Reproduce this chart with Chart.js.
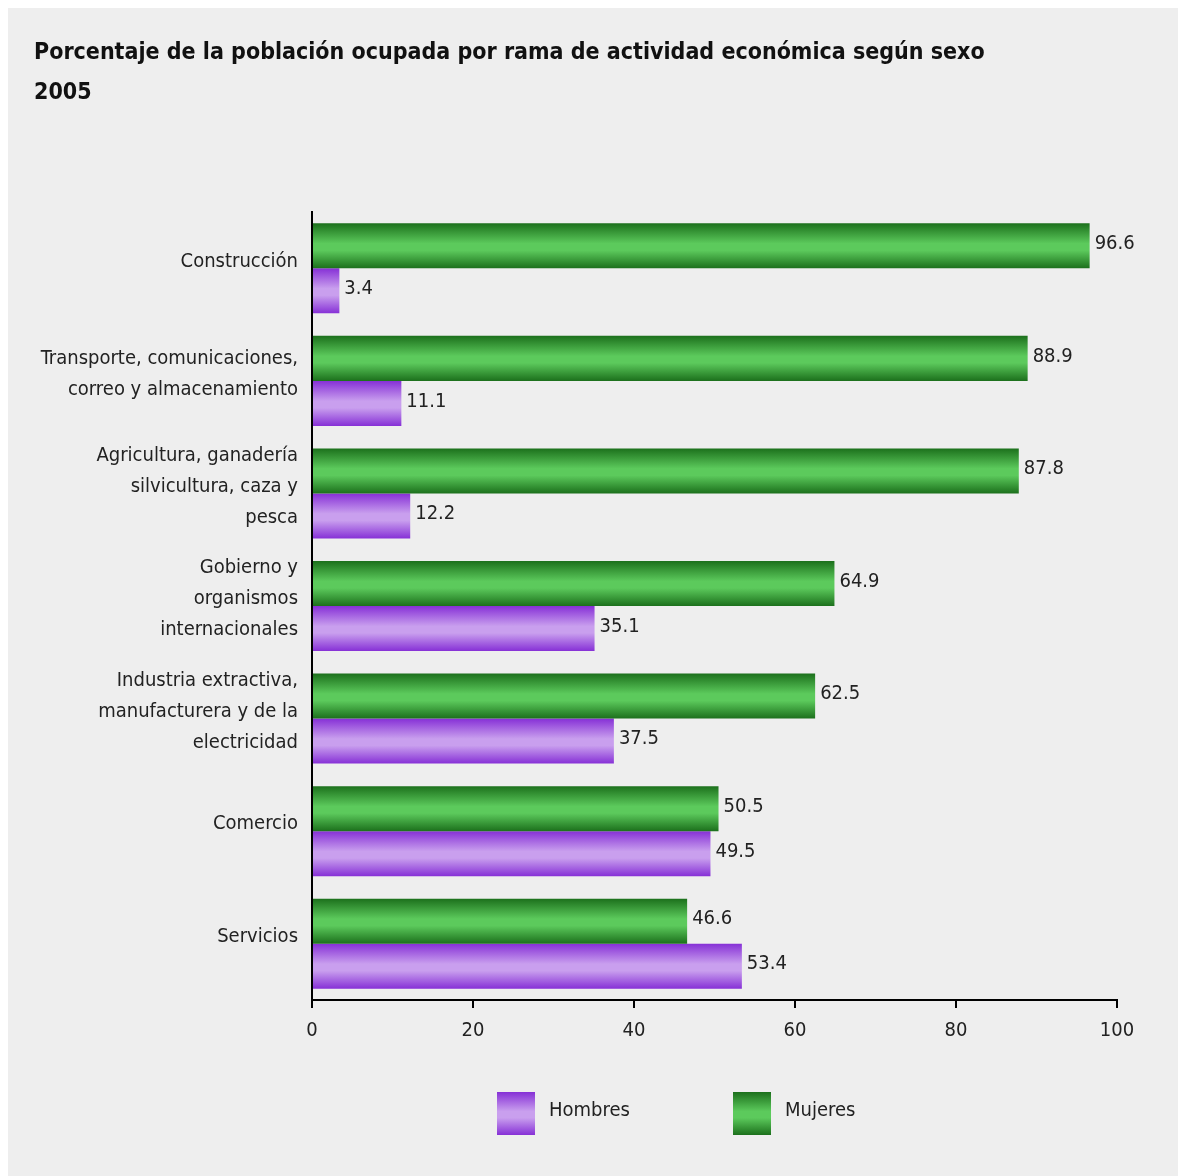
<!DOCTYPE html>
<html>
<head>
<meta charset="utf-8">
<script src="https://cdn.jsdelivr.net/npm/chart.js@4.4.1/dist/chart.umd.min.js"></script>
<style>
  body { margin: 0; background: #ffffff; }
  #box { position: absolute; left: 8px; top: 8px; width: 1170px; height: 1168px; background: #eeeeee; }
  canvas { display: block; }
</style>
</head>
<body>
<div id="box"><canvas id="chart" width="1170" height="1168"></canvas></div>
<script>
const FONT = "'Liberation Sans Narrow', 'DejaVu Sans Condensed', 'Arial Narrow', sans-serif";

const categories = [
  'Construcción',
  ['Transporte, comunicaciones,', 'correo y almacenamiento'],
  ['Agricultura, ganadería', 'silvicultura, caza y', 'pesca'],
  ['Gobierno y', 'organismos', 'internacionales'],
  ['Industria extractiva,', 'manufacturera y de la', 'electricidad'],
  'Comercio',
  'Servicios'
];
const mujeres = [96.6, 88.9, 87.8, 64.9, 62.5, 50.5, 46.6];
const hombres = [3.4, 11.1, 12.2, 35.1, 37.5, 49.5, 53.4];
const xTicks = [0, 20, 40, 60, 80, 100];

const CAT_PCT = 0.8;

// edge / middle colours of the bar gradients
const GREEN = ['#1c701c', '#5cca5c'];
const PURPLE = ['#8630d6', '#c99fee'];

function makeGradient(c, edges, top, h) {
  const g = c.createLinearGradient(0, top, 0, top + h);
  g.addColorStop(0, edges[0]);
  g.addColorStop(0.45, edges[1]);
  g.addColorStop(0.6, edges[1]);
  g.addColorStop(1, edges[0]);
  return g;
}

// vertical gradient for a bar, worked out from the y scale
function barGradient(edges) {
  return function (ctx) {
    const chart = ctx.chart;
    const y = chart.scales.y;
    if (!y || ctx.dataIndex === undefined) return edges[1];
    const band = (y.bottom - y.top) / categories.length;
    const pair = band * CAT_PCT;
    const yc = y.getPixelForValue(ctx.dataIndex);
    if (!isFinite(yc) || !isFinite(band) || band <= 0) return edges[1];
    const top = ctx.datasetIndex === 0 ? yc - pair / 2 : yc;
    return makeGradient(chart.ctx, edges, top, pair / 2);
  };
}

// numbers at the end of each bar
const valueLabels = {
  id: 'valueLabels',
  afterDatasetsDraw(chart) {
    const c = chart.ctx;
    c.save();
    c.font = '20px ' + FONT;
    c.fillStyle = '#222';
    c.textAlign = 'left';
    c.textBaseline = 'middle';
    chart.data.datasets.forEach((ds, di) => {
      chart.getDatasetMeta(di).data.forEach((bar, i) => {
        c.fillText(ds.data[i].toFixed(1), bar.x + 5, bar.y - 2);
      });
    });
    c.restore();
  }
};

// legend drawn by hand: Hombres first, Mujeres second
const bottomLegend = {
  id: 'bottomLegend',
  afterDraw(chart) {
    const c = chart.ctx;
    const items = [
      { text: 'Hombres', edges: PURPLE, x: 489 },
      { text: 'Mujeres', edges: GREEN, x: 725 }
    ];
    c.save();
    c.font = '20px ' + FONT;
    c.textBaseline = 'middle';
    items.forEach(it => {
      c.fillStyle = makeGradient(c, it.edges, 1084, 43);
      c.fillRect(it.x, 1084, 38, 43);
      c.fillStyle = '#222';
      c.fillText(it.text, it.x + 52, 1103);
    });
    c.restore();
  }
};

new Chart(document.getElementById('chart'), {
  type: 'bar',
  data: {
    labels: categories,
    datasets: [
      {
        label: 'Mujeres',
        data: mujeres,
        backgroundColor: barGradient(GREEN),
        categoryPercentage: CAT_PCT,
        barPercentage: 1.0
      },
      {
        label: 'Hombres',
        data: hombres,
        backgroundColor: barGradient(PURPLE),
        categoryPercentage: CAT_PCT,
        barPercentage: 1.0
      }
    ]
  },
  options: {
    indexAxis: 'y',
    responsive: false,
    maintainAspectRatio: false,
    animation: false,
    layout: { padding: { left: 26, right: 61, top: 0, bottom: 122 } },
    plugins: {
      legend: { display: false },
      tooltip: { enabled: false },
      title: {
        display: true,
        align: 'start',
        text: ['Porcentaje de la población ocupada por rama de actividad económica según sexo', '2005'],
        color: '#111',
        font: { family: FONT, size: 23, weight: 'bold', lineHeight: 1.74 },
        padding: { top: 25, bottom: 99 }
      }
    },
    scales: {
      x: {
        min: 0,
        max: 100,
        afterBuildTicks: s => { s.ticks = xTicks.map(v => ({ value: v })); },
        grid: { drawOnChartArea: false, drawTicks: true, tickLength: 8, color: '#000', lineWidth: 2 },
        border: { display: true, color: '#000', width: 2 },
        ticks: { color: '#222', padding: 11, font: { family: FONT, size: 20 } }
      },
      y: {
        afterFit: s => { s.width = 278; },
        grid: { display: false },
        border: { display: true, color: '#000', width: 2 },
        ticks: {
          color: '#222',
          padding: 6,
          labelOffset: -7,
          font: { family: FONT, size: 20, lineHeight: 1.55 }
        }
      }
    }
  },
  plugins: [valueLabels, bottomLegend]
});
</script>
</body>
</html>
